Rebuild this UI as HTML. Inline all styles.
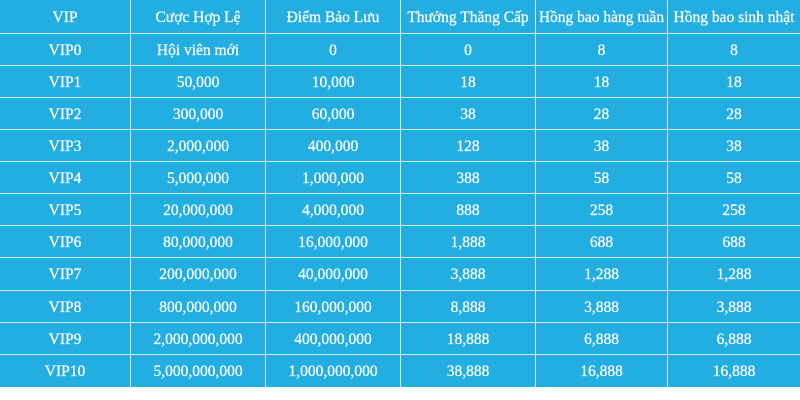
<!DOCTYPE html>
<html>
<head>
<meta charset="utf-8">
<style>
  html, body { margin:0; padding:0; background:#ffffff; }
  #wrap { position:relative; width:800px; height:400px; overflow:hidden; background:#ffffff; }
  #tbl { position:absolute; left:0; top:0; width:800px; height:387px; background:#23aee2; }
  .v { position:absolute; top:0; width:1px; height:387px; background:#d3eef9; }
  .h { position:absolute; left:0; width:800px; height:1px; background:#d3eef9; }
  .c { position:absolute; display:flex; align-items:center; justify-content:center;
       color:#ffffff; font-family:"Liberation Serif", serif;
       font-size:15.5px; white-space:nowrap; -webkit-text-stroke:0.25px #ffffff; }
</style>
</head>
<body>
<div id="wrap">
<div id="tbl"></div>
</div>
<script>
(function(){
  var xs=[0,130,265,400,535,667,800];
  var ys=[0,33,65,97,129,161,193,225,257,290,322,354,387];
  var data=[
    ["VIP","C\u01B0\u1EE3c H\u1EE3p L\u1EC7","\u0110i\u1EC3m B\u1EA3o L\u01B0u","Th\u01B0\u1EDFng Th\u0103ng C\u1EA5p","H\u1ED3ng bao h\u00E0ng tu\u1EA7n","H\u1ED3ng bao sinh nh\u1EADt"],
    ["VIP0","H\u1ED9i vi\u00EAn m\u1EDBi","0","0","8","8"],
    ["VIP1","50,000","10,000","18","18","18"],
    ["VIP2","300,000","60,000","38","28","28"],
    ["VIP3","2,000,000","400,000","128","38","38"],
    ["VIP4","5,000,000","1,000,000","388","58","58"],
    ["VIP5","20,000,000","4,000,000","888","258","258"],
    ["VIP6","80,000,000","16,000,000","1,888","688","688"],
    ["VIP7","200,000,000","40,000,000","3,888","1,288","1,288"],
    ["VIP8","800,000,000","160,000,000","8,888","3,888","3,888"],
    ["VIP9","2,000,000,000","400,000,000","18,888","6,888","6,888"],
    ["VIP10","5,000,000,000","1,000,000,000","38,888","16,888","16,888"]
  ];
  var w=document.getElementById('wrap');
  var html='';
  for(var i=1;i<xs.length-1;i++){
    html+='<div class="v" style="left:'+xs[i]+'px"></div>';
  }
  for(var j=1;j<ys.length-1;j++){
    html+='<div class="h" style="top:'+ys[j]+'px"></div>';
  }
  for(var r=0;r<data.length;r++){
    var top=ys[r]+(r>0?1:0), bot=ys[r+1];
    for(var c=0;c<6;c++){
      var left=xs[c]+(c>0?1:0), right=xs[c+1];
      html+='<div class="c" style="left:'+left+'px;top:'+(top+1)+'px;width:'+(right-left)+'px;height:'+(bot-top)+'px">'+data[r][c]+'</div>';
    }
  }
  w.insertAdjacentHTML('beforeend',html);
})();
</script>
</body>
</html>
